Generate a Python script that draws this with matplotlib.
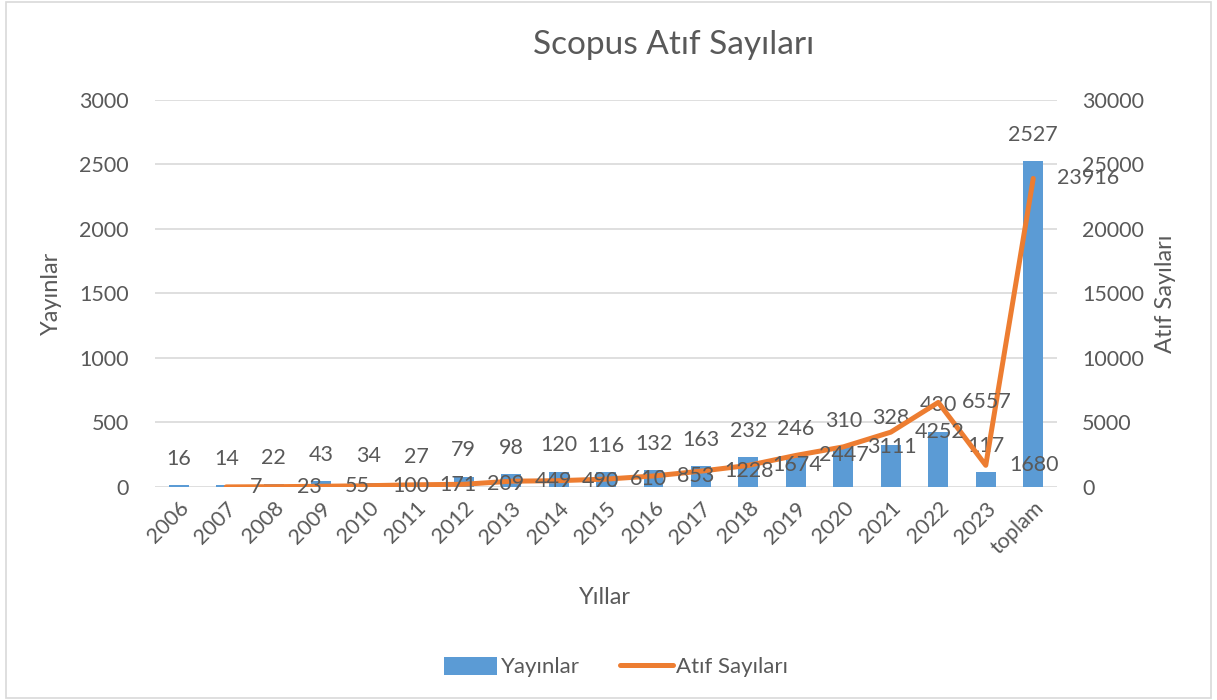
import matplotlib.pyplot as plt
from matplotlib.patches import Rectangle
import numpy as np

# --- Data ---
years = ['2006', '2007', '2008', '2009', '2010', '2011', '2012', '2013', '2014',
         '2015', '2016', '2017', '2018', '2019', '2020', '2021', '2022', '2023', 'toplam']
yayinlar = [16, 14, 22, 43, 34, 27, 79, 98, 120, 116, 132, 163, 232, 246, 310, 328, 430, 117, 2527]
# citation series starts at 2007
atif_years = years[1:]
atif = [7, 23, 55, 100, 171, 209, 449, 490, 610, 853, 1228, 1674, 2447, 3111, 4252, 6557, 1680, 23916]

BLUE = '#5B9BD5'
ORANGE = '#ED7D31'
TXT = '#595959'
GRID = '#D9D9D9'

plt.rcParams['font.family'] = ['Lato', 'DejaVu Sans']

fig = plt.figure(figsize=(12.17, 7), dpi=100)
ax1 = fig.add_axes([0.1274, 0.3043, 0.7411, 0.5529])
ax2 = ax1.twinx()

x = np.arange(len(years))
x_line = np.array([years.index(y) for y in atif_years])

# Bars - Yayınlar
ax1.bar(x, yayinlar, width=0.42, color=BLUE, label='Yayınlar', zorder=2)
for xi, v in zip(x, yayinlar):
    ax1.annotate(str(v), (xi, v), xytext=(0, 19), textcoords='offset points',
                 ha='center', va='center', fontsize=15.5, color=TXT)

# Line - Atıf Sayıları
ax2.plot(x_line, atif, color=ORANGE, linewidth=3.6, solid_capstyle='round',
         label='Atıf Sayıları', zorder=3)
for xi, v in zip(x_line, atif):
    ax2.annotate(str(v), (xi, v), xytext=(17, 0), textcoords='offset points',
                 ha='left', va='center', fontsize=15.5, color=TXT)

# Axes styling
ax1.set_xlim(-0.5, len(years) - 0.5)
ax1.set_ylim(0, 3000)
ax1.set_yticks(np.arange(0, 3001, 500))
ax2.set_ylim(0, 30000)
ax2.set_yticks(np.arange(0, 30001, 5000))
ax1.grid(axis='y', color=GRID, linewidth=1.2, zorder=0)
ax1.set_axisbelow(True)

for ax in (ax1, ax2):
    for s in ax.spines.values():
        s.set_visible(False)
    ax.tick_params(length=0, labelsize=15.5, labelcolor=TXT)

ax1.set_xticks(x)
ax1.set_xticklabels(years, rotation=45, ha='right', rotation_mode='anchor')
ax1.tick_params(axis='x', pad=8)
ax1.tick_params(axis='y', pad=19)
ax2.tick_params(axis='y', pad=18)

ax1.set_ylabel('Yayınlar', fontsize=17, color=TXT, labelpad=12)
ax2.set_ylabel('Atıf Sayıları', fontsize=17, color=TXT, labelpad=8)
fig.text(605 / 1217, 1 - 598 / 700, 'Yıllar', ha='center', va='center', fontsize=17, color=TXT)

fig.text(674 / 1217, 1 - 45 / 700, 'Scopus Atıf Sayıları', ha='center', va='center',
         fontsize=24, color=TXT)

fig.legend(loc='center', bbox_to_anchor=(616 / 1217, 1 - 667 / 700), ncol=2,
           frameon=False, fontsize=16, handlelength=2.4, handleheight=0.9,
           handletextpad=0.15, columnspacing=1.8, labelcolor=TXT)

# chart border
fig.patches.append(Rectangle((0.005, 0.003), 0.99, 0.994, transform=fig.transFigure,
                             fill=False, edgecolor='#D9D9D9', linewidth=1.2))

fig.savefig('out.png', dpi=100)
